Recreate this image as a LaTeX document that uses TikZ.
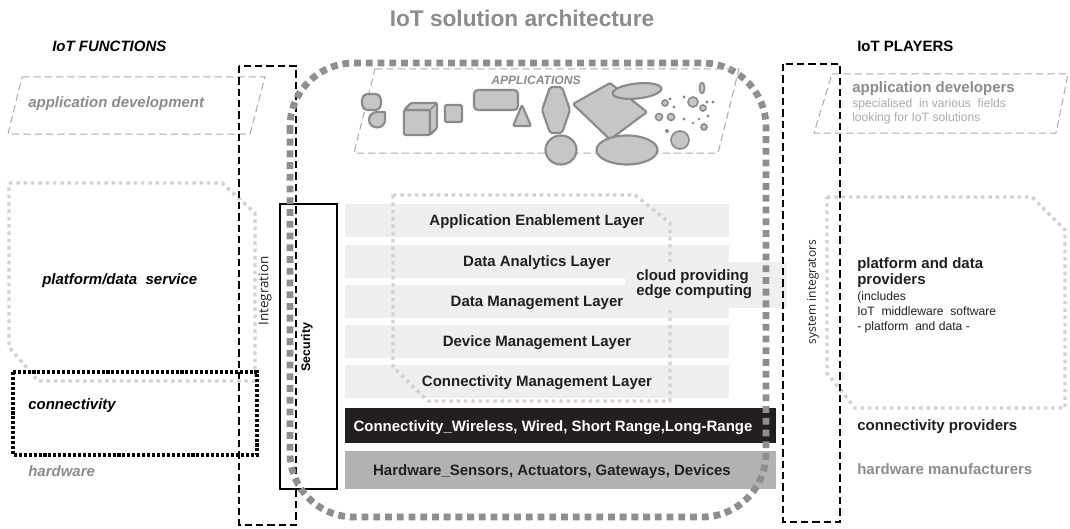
\documentclass[tikz,border=0pt]{standalone}
\usepackage{fontspec}
\setmainfont{Liberation Sans}
\newfontfamily\humfont{Open Sans}
\definecolor{tgray}{HTML}{8C8C8C}
\definecolor{pgray}{HTML}{ABABAB}
\definecolor{ldot}{HTML}{D2D2D2}
\definecolor{bigdot}{HTML}{8E8E8E}
\definecolor{barfill}{HTML}{EFEFEF}
\definecolor{hwfill}{HTML}{B2B2B2}
\definecolor{cnfill}{HTML}{231F20}
\definecolor{appfill}{HTML}{C6C6C6}
\definecolor{appline}{HTML}{8A8A8A}
\definecolor{txtdark}{HTML}{231F20}
\begin{document}
\begin{tikzpicture}[x=0.75pt,y=-0.75pt,
  para/.style={draw=pgray, line width=0.75pt, dash pattern=on 5.5pt off 3pt},
  ldots/.style={draw=ldot, line width=2.6pt, dash pattern=on 2.6pt off 2.9pt},
  bdots/.style={draw=black, line width=2.5pt, dash pattern=on 2.3pt off 1.4pt},
  intdash/.style={draw=black, line width=1.5pt, dash pattern=on 5.5pt off 3pt},
  bigframe/.style={draw=bigdot, line width=5.1pt, dash pattern=on 5.1pt off 3.7pt},
  layerbar/.style={rectangle, fill=barfill, minimum width=288pt, minimum height=24.75pt, inner sep=0pt, text height=8.1pt, text depth=0pt, font=\fontsize{11.25}{13}\selectfont\bfseries, text=txtdark},
  bfont/.style={font=\fontsize{11.25}{13}\selectfont\bfseries},
  bifont/.style={font=\fontsize{11.25}{13}\selectfont\bfseries\itshape},
  smallfont/.style={font=\fontsize{9.1}{11}\selectfont},
  app/.style={fill=appfill, draw=appline, line width=1.6pt, line join=round},
  ring/.style={fill=appfill, draw=appline, line width=1.2pt},
  pt/.style={fill=appline},
  txt/.style={inner sep=0pt, anchor=base west}
]
\useasboundingbox (0,0) rectangle (1070,528);
\fill[white] (0,0) rectangle (1070,528);

% ---------- left functions shapes
\draw[para] (22,77) -- (265,77) -- (250,134) -- (8,134) -- cycle;
\draw[ldots] (9,183) -- (222,183) -- (255,213) -- (255,381) -- (38,381) -- (9,347) -- cycle;
\draw[bdots] (13,372) rectangle (257,455);
\draw[intdash] (239,66) rectangle (296,525);

% ---------- layers
\node[layerbar] (ael) at (537,220.5) {Application Enablement Layer};
\node[layerbar] (dal) at (537,261.5) {Data Analytics Layer};
\node[layerbar] (dml) at (537,301.5) {Data Management Layer};
\node[layerbar] (dvl) at (537,341.5) {Device Management Layer};
\node[layerbar] (cml) at (537,381.5) {Connectivity Management Layer};
\draw[ldots] (393,195) -- (635,195) -- (670,223) -- (670,401) -- (428,401) -- (393,367) -- cycle;
\fill[barfill] (625,262) rectangle (787,308);
\node[txt, bfont, text=txtdark] (cloud1) at (636,280) {cloud providing};
\node[txt, bfont, text=txtdark] (cloud2) at (636,295.5) {edge computing};

\fill[cnfill] (345,408) rectangle (776,443);
\fill[hwfill] (345,451) rectangle (776,489);
\node[bfont, text=white, text height=8.1pt, text depth=0pt, inner sep=0pt] (conn) at (553,426.5) {Connectivity\_Wireless, Wired, Short Range,Long-Range};
\node[bfont, text=txtdark, text height=8.1pt, text depth=0pt, inner sep=0pt] (hw) at (552,470) {Hardware\_Sensors, Actuators, Gateways, Devices};

\draw[black, line width=0.8pt] (280,204) rectangle (337,489);
\draw[bigframe, rounded corners=48pt] (290,63) rectangle (766,517);

% ---------- applications
\draw[para] (375,69) -- (739,69) -- (718,153) -- (354,153) -- cycle;
\node[font=\fontsize{9.1}{11}\selectfont\bfseries\itshape, text=tgray, inner sep=0pt] (apps) at (536,80) {APPLICATIONS};
\draw[app, rounded corners=1.5pt] (365,94) -- (378,94) -- (381,98) -- (381,106) -- (378,110) -- (365,110) -- (362,106) -- (362,98) -- cycle;
\draw[app] (385,112) -- (385,120) .. controls (385,124.5) and (381.5,127.5) .. (377,127.5) .. controls (372.5,127.5) and (369,124) .. (369,120) .. controls (369,115.5) and (372.5,112) .. (377,112) -- cycle;
\draw[app, rounded corners=1pt] (404,110) -- (430,110) -- (430,135) -- (404,135) -- cycle;
\draw[app, rounded corners=1pt] (404,110) -- (411,103) -- (437,103) -- (437,128) -- (430,135) -- (430,110) -- cycle;
\draw[app, line width=1.2pt] (430,110) -- (437,103);
\draw[app, rounded corners=1pt] (445,105) rectangle (462,122);
\draw[app, rounded corners=3pt] (474,90) rectangle (518,110);
\draw[app, rounded corners=1pt] (522,105) -- (531,126) -- (513,126) -- cycle;
\draw[app, rounded corners=1.5pt] (550,87) -- (562,87) -- (570,110) -- (562,133) -- (550,133) -- (542,110) -- cycle;
\draw[app] (561,150) ellipse [x radius=15.5, y radius=14.5];
\draw[app, rounded corners=1pt] (573,104) -- (610,83) -- (647,112) -- (610,139.5) -- cycle;
\draw[app, rotate around={6:(637,91)}] (637,91) ellipse [x radius=24.5, y radius=7.5];
\draw[app] (627,150) ellipse [x radius=30.5, y radius=14.5];
\draw[ring] (702,88) ellipse [x radius=2.5, y radius=5.5];
\draw[ring] (665,103) circle [radius=3];
\draw[ring] (693,102) circle [radius=5];
\draw[ring] (703,108) circle [radius=3];
\draw[ring] (659,117) circle [radius=3.5];
\draw[ring] (671,117) circle [radius=3.5];
\draw[ring] (704,127) circle [radius=3];
\draw[ring] (680,140) circle [radius=9];
\fill[pt] (670,99) circle [radius=1.6];
\fill[pt] (674,107) circle [radius=1.6];
\fill[pt] (684,97) circle [radius=1.6];
\fill[pt] (707,102) circle [radius=1.6];
\fill[pt] (713,102) circle [radius=1.6];
\fill[pt] (684,119) circle [radius=1.6];
\fill[pt] (693,123) circle [radius=1.4];
\fill[pt] (699,119) circle [radius=1.4];
\fill[pt] (708,116) circle [radius=1.6];
\fill[pt] (667,131) circle [radius=2];

% ---------- right players shapes
\draw[para] (832,74) -- (1068,74) -- (1056,133) -- (814,133) -- cycle;
\draw[ldots] (827,197) -- (1032,197) -- (1065,230) -- (1065,408) -- (855,408) -- (827,373) -- cycle;
\draw[intdash] (783,64) rectangle (840,522);

% ---------- titles
\node[txt, anchor=base, font=\fontsize{17}{19}\selectfont\bfseries, text=tgray] (title) at (522,27) {IoT solution architecture};
\node[txt, bifont] (fun) at (52,51.5) {IoT FUNCTIONS};
\node[txt, bfont] (players) at (857,51.5) {IoT PLAYERS};

% ---------- left labels
\node[txt, bifont, text=tgray] (appdev) at (28,108) {application development};
\node[txt, bifont] (platf) at (42,284) {platform/data\ \ service};
\node[txt, bifont] (connf) at (28,409.5) {connectivity};
\node[txt, bifont, text=tgray] (hwf) at (28,476) {hardware};
\node[font=\humfont\fontsize{10.1}{12}\selectfont, text=txtdark, rotate=90, inner sep=0pt] (integ) at (265,291) {Integration};
\node[font=\fontsize{9.3}{11}\selectfont\bfseries, rotate=90, inner sep=0pt] (sec) at (307,347) {Security};
\node[font=\humfont\fontsize{9}{11}\selectfont, text=txtdark, rotate=90, inner sep=0pt] (sysint) at (813,292) {system integrators};

% ---------- right labels
\node[txt, bfont, text=tgray] (appdevs) at (852,92.3) {application developers};
\node[txt, smallfont, text=pgray] (spec) at (852,107.3) {specialised\ \ in various\ \ fields};
\node[txt, smallfont, text=pgray] (look) at (852,121.7) {looking for IoT solutions};
\node[txt, bfont, text=txtdark] (pd1) at (857,268.3) {platform and data};
\node[txt, bfont, text=txtdark] (pd2) at (857,284) {providers};
\node[txt, smallfont, text=txtdark] (pd3) at (857,300.7) {(includes};
\node[txt, smallfont, text=txtdark] (pd4) at (857,315) {IoT\ \ middleware\ \ software};
\node[txt, smallfont, text=txtdark] (pd5) at (857,330) {- platform\ \ and data -};
\node[txt, bfont, text=txtdark] (connp) at (857,430.7) {connectivity providers};
\node[txt, bfont, text=tgray] (hwm) at (857,474) {hardware manufacturers};
\end{tikzpicture}
\end{document}
